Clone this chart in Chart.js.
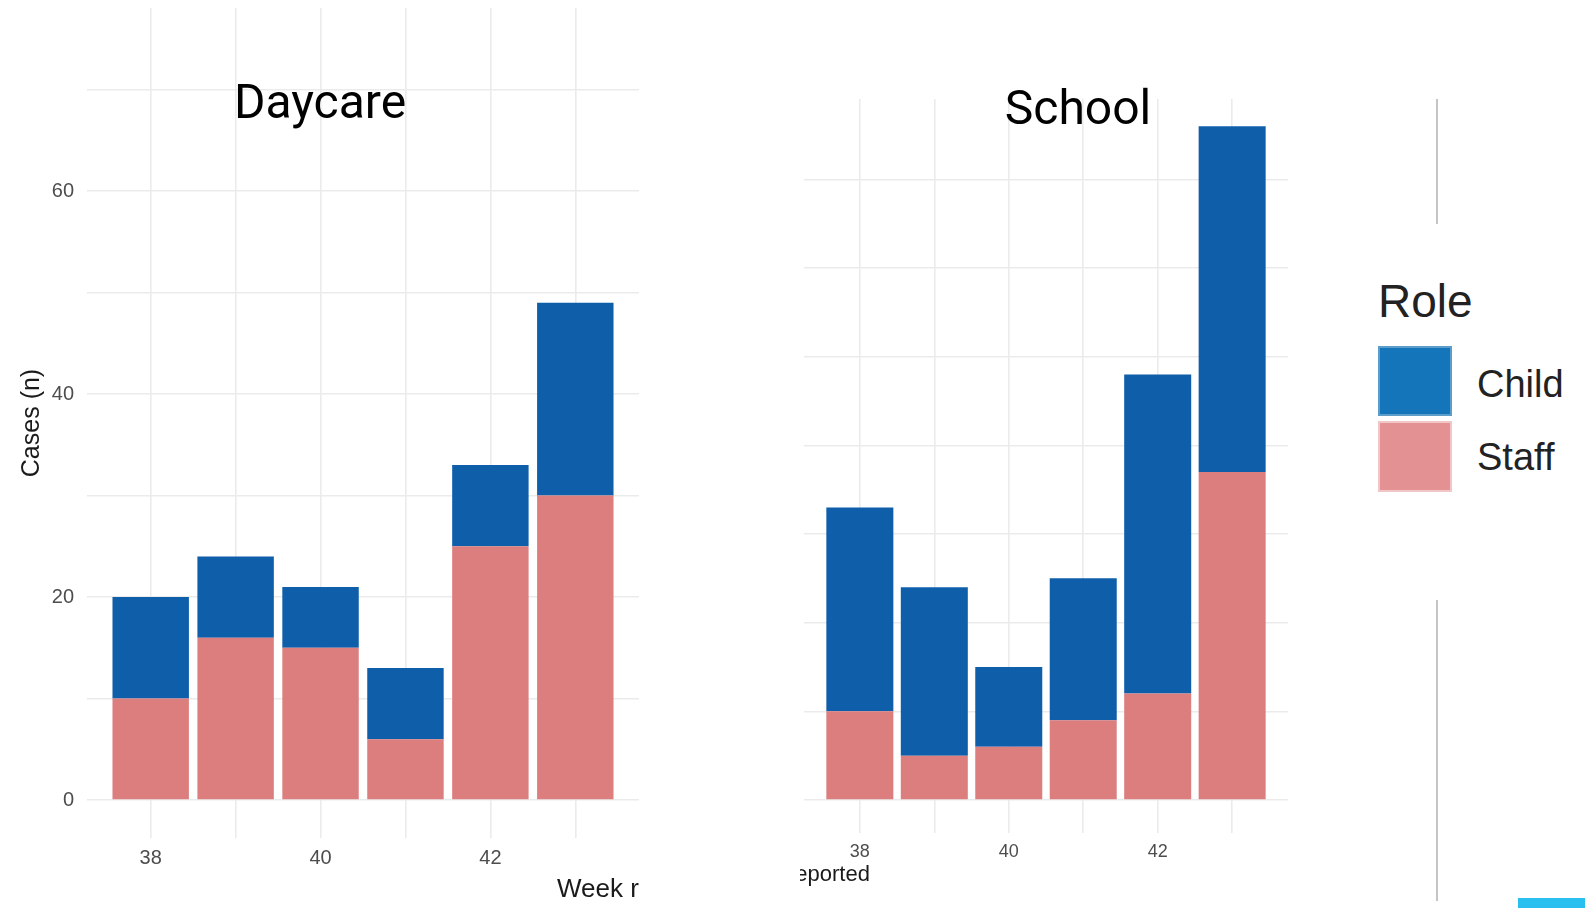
<!DOCTYPE html>
<html>
<head>
<meta charset="utf-8">
<script src="https://cdn.jsdelivr.net/npm/chart.js@4.4.0/dist/chart.umd.min.js"></script>
<style>
  body { margin: 0; width: 1585px; height: 908px; background: #fff; position: relative; overflow: hidden; }
  .abs { position: absolute; }
  .title { font-family: Roboto, sans-serif; font-size: 48px; line-height: 48px; color: #000; text-align: center; white-space: nowrap; }
  .lab { font-family: "Liberation Sans", Arial, sans-serif; color: #1a1a1a; white-space: nowrap; }
</style>
</head>
<body>
<div class="abs" style="left:0;top:0;width:639px;height:908px"><canvas id="daycareChart"></canvas></div>
<div class="abs" style="left:800px;top:0;width:488px;height:908px"><canvas id="schoolChart"></canvas></div>

<div class="abs title" style="left:120px;top:78px;width:400px">Daycare</div>
<div class="abs title" style="left:878px;top:84px;width:400px">School</div>

<!-- x axis title, cut by both panels -->
<div class="abs" style="left:0;top:860px;width:639px;height:48px;overflow:hidden">
  <span class="abs lab" style="left:557px;top:15px;font-size:26px;line-height:26px">Week reported</span>
</div>
<div class="abs" style="left:800px;top:855px;width:300px;height:40px;overflow:hidden">
  <span class="abs lab" style="left:-74px;top:8px;font-size:22px;line-height:22px">Week reported</span>
</div>

<!-- legend -->
<div class="abs lab" style="left:1378px;top:278px;font-size:46px;line-height:46px;color:#222">Role</div>
<div class="abs" style="left:1378px;top:346px;width:70px;height:66px;background:#1475bb;border:2px solid #5d9dc9"></div>
<div class="abs" style="left:1378px;top:421px;width:70px;height:67px;background:#e39192;border:2px solid #f1c6c6"></div>
<div class="abs lab" style="left:1477px;top:365px;font-size:38px;line-height:38px;color:#222">Child</div>
<div class="abs lab" style="left:1477px;top:438px;font-size:38px;line-height:38px;color:#222">Staff</div>

<div class="abs" style="left:1436px;top:99px;width:1.5px;height:125px;background:#c4c4c4"></div>
<div class="abs" style="left:1436px;top:600px;width:1.5px;height:301px;background:#c4c4c4"></div>
<div class="abs" style="left:1518px;top:898px;width:67px;height:10px;background:#29c0ef"></div>

<script>
var weeks = [38, 39, 40, 41, 42, 43];
var daycareStaff = [10, 16, 15, 6, 25, 30];
var daycareChild = [10, 8, 6, 7, 8, 19];
var schoolStaff = [10, 5, 6, 9, 12, 37];
var schoolChild = [23, 19, 9, 16, 36, 39];
var xTickLabels = [38, 40, 42];
var yTickLabels = [0, 20, 40, 60];

var staffColor = '#dc7e7e';
var childColor = '#0e5eaa';
var gridColor = '#ebebeb';

function toPoints(values) {
    return values.map(function(v, i) {
        return { x: weeks[i], y: v };
    });
}

function makeChart(id, staff, child, o) {
    var ctx = document.getElementById(id).getContext('2d');
    return new Chart(ctx, {
        type: 'bar',
        data: {
            datasets: [
                { label: 'Staff', data: toPoints(staff), backgroundColor: staffColor, borderWidth: 0 },
                { label: 'Child', data: toPoints(child), backgroundColor: childColor, borderWidth: 0 }
            ]
        },
        options: {
            responsive: true,
            maintainAspectRatio: false,
            animation: false,
            layout: { padding: { top: o.top, left: 0, right: 0, bottom: 0 } },
            plugins: { legend: { display: false }, tooltip: { enabled: false } },
            datasets: { bar: { barPercentage: 0.9, categoryPercentage: 1 } },
            scales: {
                x: {
                    type: 'linear',
                    stacked: true,
                    offset: false,
                    min: 37.25,
                    max: 43.75,
                    border: { display: false },
                    grid: { color: gridColor, lineWidth: 1.6, drawTicks: false, offset: false },
                    ticks: {
                        stepSize: 1,
                        includeBounds: false,
                        autoSkip: false,
                        maxRotation: 0,
                        padding: o.xPad,
                        color: '#4d4d4d',
                        font: { family: 'Liberation Sans', size: o.xFont },
                        callback: function(v) { return xTickLabels.indexOf(v) >= 0 ? String(v) : ''; }
                    },
                    afterFit: function(scale) {
                        scale.height = o.xHeight;
                        scale.paddingLeft = 0;
                        scale.paddingRight = 0;
                    }
                },
                y: {
                    stacked: true,
                    min: o.yMin,
                    max: o.yMax,
                    border: { display: false },
                    grid: { color: gridColor, lineWidth: 1.6, drawTicks: false },
                    ticks: {
                        display: o.yLabels,
                        stepSize: 10,
                        includeBounds: false,
                        padding: 13,
                        color: '#4d4d4d',
                        font: { family: 'Liberation Sans', size: 20 },
                        callback: function(v) { return yTickLabels.indexOf(v) >= 0 ? String(v) : ''; }
                    },
                    title: {
                        display: o.yLabels,
                        text: 'Cases (n)',
                        color: '#1a1a1a',
                        font: { family: 'Liberation Sans', size: 25 },
                        padding: { top: 17, bottom: 0 }
                    },
                    afterFit: function(scale) {
                        scale.width = o.yWidth;
                        scale.paddingTop = 0;
                        scale.paddingBottom = 0;
                    }
                }
            }
        }
    });
}

makeChart('daycareChart', daycareStaff, daycareChild, {
    top: 8, xHeight: 70, xPad: 8, xFont: 20, yMin: -3.74, yMax: 78.03, yLabels: true, yWidth: 87
});
makeChart('schoolChart', schoolStaff, schoolChild, {
    top: 99, xHeight: 75, xPad: 8, xFont: 18, yMin: -3.72, yMax: 79.06, yLabels: false, yWidth: 4
});
</script>
</body>
</html>
